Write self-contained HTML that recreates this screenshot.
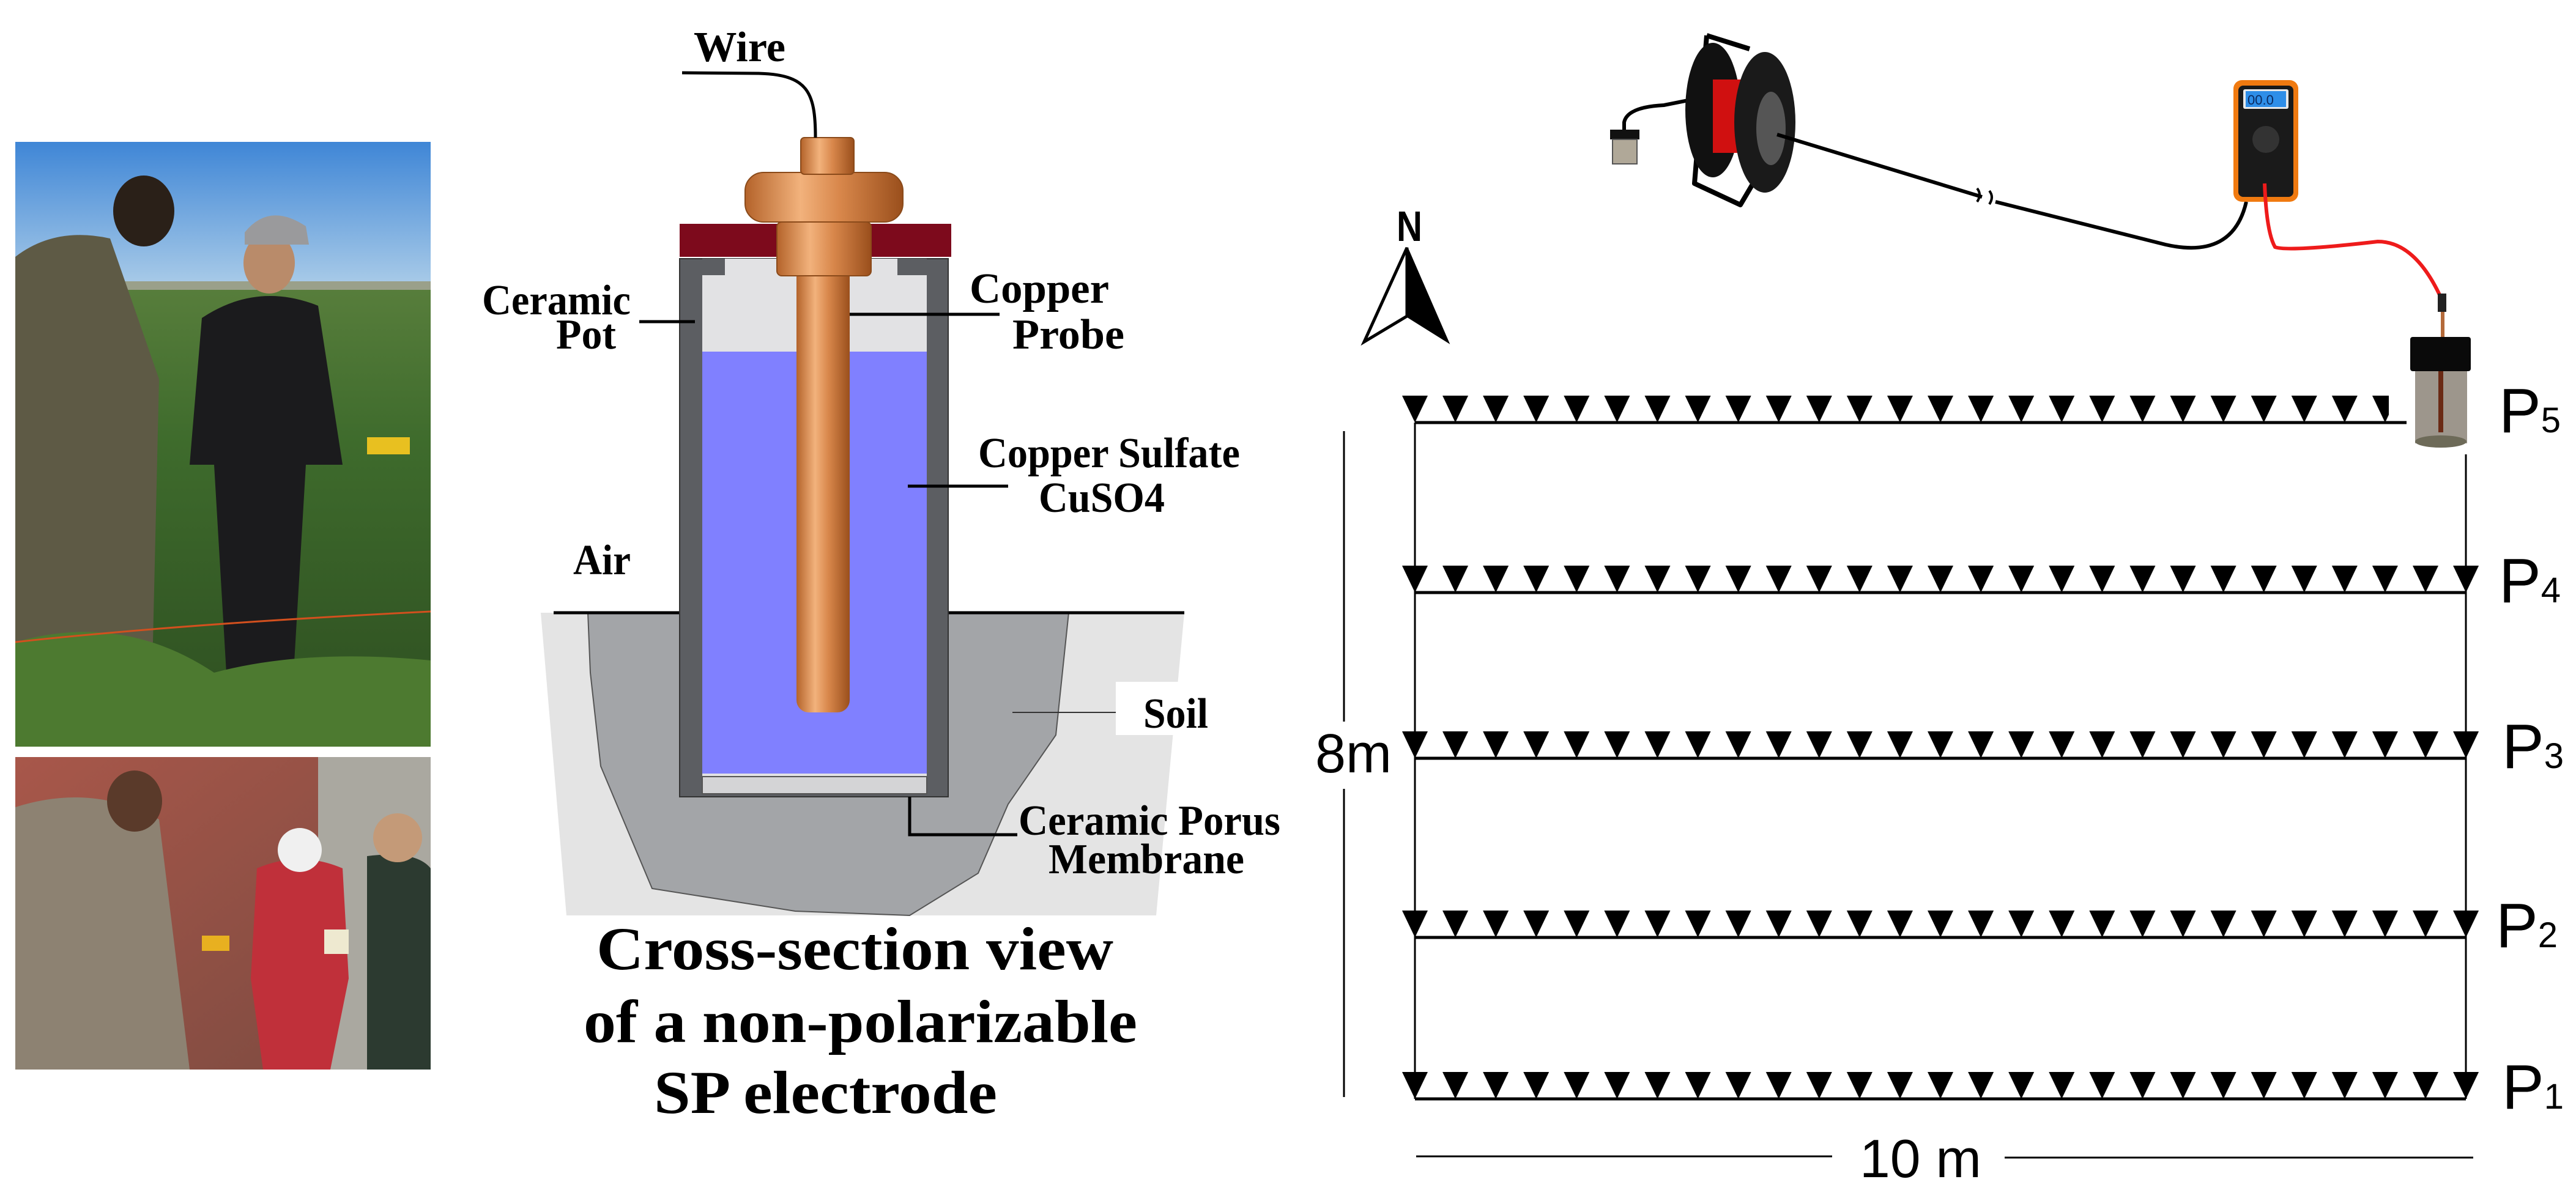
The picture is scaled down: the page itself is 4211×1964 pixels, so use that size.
<!DOCTYPE html>
<html><head><meta charset="utf-8"><style>html,body{margin:0;padding:0;background:#fff}svg{display:block}</style></head>
<body>
<svg width="4211" height="1964" viewBox="0 0 4211 1964" xmlns="http://www.w3.org/2000/svg">
<defs>
<linearGradient id="cu" x1="0" x2="1" y1="0" y2="0">
<stop offset="0" stop-color="#b4632a"/><stop offset="0.35" stop-color="#f2b27c"/><stop offset="0.6" stop-color="#d8874b"/><stop offset="1" stop-color="#9a4f1c"/></linearGradient>
<linearGradient id="sky" x1="0" x2="0" y1="0" y2="1">
<stop offset="0" stop-color="#3f86d6"/><stop offset="1" stop-color="#a9cbe8"/></linearGradient>
<linearGradient id="field" x1="0" x2="0" y1="0" y2="1">
<stop offset="0" stop-color="#6f8f4a"/><stop offset="0.5" stop-color="#3e6b2c"/><stop offset="1" stop-color="#2d4d20"/></linearGradient>
<linearGradient id="brick" x1="0" x2="1" y1="0" y2="1">
<stop offset="0" stop-color="#a8574a"/><stop offset="1" stop-color="#7a4a40"/></linearGradient>
<pattern id="t1" patternUnits="userSpaceOnUse" x="2292" y="647" width="66.08" height="44"><polygon points="0,0 42,0 21,44" fill="#000"/></pattern>
<pattern id="t2" patternUnits="userSpaceOnUse" x="2292" y="925" width="66.08" height="44"><polygon points="0,0 42,0 21,44" fill="#000"/></pattern>
<pattern id="t3" patternUnits="userSpaceOnUse" x="2292" y="1196" width="66.08" height="44"><polygon points="0,0 42,0 21,44" fill="#000"/></pattern>
<pattern id="t4" patternUnits="userSpaceOnUse" x="2292" y="1489" width="66.08" height="44"><polygon points="0,0 42,0 21,44" fill="#000"/></pattern>
<pattern id="t5" patternUnits="userSpaceOnUse" x="2292" y="1753" width="66.08" height="44"><polygon points="0,0 42,0 21,44" fill="#000"/></pattern>
</defs>

<!-- Photo 1 -->
<rect x="25" y="232" width="679" height="989" fill="url(#field)"/>
<rect x="25" y="232" width="679" height="235" fill="url(#sky)"/>
<rect x="25" y="460" width="679" height="14" fill="#9aa08a"/>
<path d="M25,420 Q90,370 180,390 L260,620 L250,1050 L180,1221 L25,1221 Z" fill="#5e5a45"/>
<ellipse cx="235" cy="345" rx="50" ry="58" fill="#2a2018"/>
<path d="M330,520 Q420,460 520,500 L560,760 L500,760 L480,1100 L370,1100 L350,760 L310,760 Z" fill="#1b1b1d"/>
<ellipse cx="440" cy="430" rx="42" ry="50" fill="#b98b6a"/>
<path d="M400,380 Q440,330 500,370 L505,400 L400,400 Z" fill="#9a9a9c"/>
<path d="M25,1050 Q200,1000 350,1100 Q500,1060 704,1080 L704,1221 L25,1221 Z" fill="#4d7a30"/>
<rect x="600" y="715" width="70" height="28" fill="#e8c020"/>
<path d="M25,1050 Q300,1020 704,1000" stroke="#d2501e" stroke-width="3" fill="none"/>
<!-- Photo 2 -->
<rect x="25" y="1238" width="679" height="511" fill="url(#brick)"/>
<rect x="520" y="1238" width="184" height="511" fill="#aaa8a0"/>
<path d="M25,1320 Q150,1280 260,1340 L310,1749 L25,1749 Z" fill="#8d8272"/>
<ellipse cx="220" cy="1310" rx="45" ry="50" fill="#5a3a2a"/>
<path d="M420,1420 Q490,1390 560,1420 L570,1600 L540,1749 L430,1749 L410,1600 Z" fill="#c0303a"/>
<circle cx="490" cy="1390" r="36" fill="#f0f0f0"/>
<path d="M600,1400 Q680,1390 704,1420 L704,1749 L600,1749 Z" fill="#2c3a30"/>
<circle cx="650" cy="1370" r="40" fill="#c49a78"/>
<rect x="710" y="1535" width="0" height="0"/>
<rect x="330" y="1530" width="45" height="25" fill="#e8b020"/>
<rect x="530" y="1520" width="40" height="40" fill="#eee9d0"/>

<!-- Electrode -->
<path d="M884,1002 L1936,1002 L1890,1497 L926,1497 Z" fill="#e4e4e4"/>
<path d="M961,1002 L965,1100 L982,1253 L1066,1453 L1300,1490 L1487,1497 L1599,1428 L1648,1315 L1726,1202 L1747,1002 Z" fill="#a3a5a8" stroke="#555" stroke-width="2"/>
<rect x="1824" y="1115" width="168" height="87" fill="#fff"/>
<line x1="905" y1="1002" x2="1936" y2="1002" stroke="#000" stroke-width="5"/>
<rect x="1111" y="423" width="439" height="880" fill="#5c5e62" stroke="#333" stroke-width="2"/>
<rect x="1148" y="450" width="367" height="820" fill="#e2e2e4"/>
<rect x="1148" y="575" width="367" height="690" fill="#8080ff"/>
<rect x="1148" y="1270" width="367" height="28" fill="#d4d4d6" stroke="#555" stroke-width="2"/>
<rect x="1185" y="423" width="282" height="28" fill="#e2e2e4"/>
<rect x="1148" y="423" width="37" height="27" fill="#5c5e62"/>
<rect x="1467" y="423" width="48" height="27" fill="#5c5e62"/>
<rect x="1111" y="366" width="444" height="54" fill="#7d0a1c"/>
<rect x="1302" y="412" width="87" height="753" rx="20" fill="url(#cu)"/>
<rect x="1270" y="363" width="154" height="88" rx="8" fill="url(#cu)" stroke="#8a4a1a" stroke-width="2"/>
<rect x="1218" y="282" width="258" height="81" rx="30" fill="url(#cu)" stroke="#8a4a1a" stroke-width="2"/>
<rect x="1309" y="225" width="87" height="60" rx="6" fill="url(#cu)" stroke="#8a4a1a" stroke-width="2"/>
<path d="M1333,225 C1333,150 1320,122 1240,120 L1115,119" stroke="#000" stroke-width="5" fill="none"/>
<g stroke="#000" stroke-width="5" fill="none">
<line x1="1045" y1="526" x2="1136" y2="526"/>
<line x1="1389" y1="514" x2="1634" y2="514"/>
<line x1="1484" y1="795" x2="1648" y2="795"/>
<polyline points="1487,1303 1487,1365 1663,1365"/>
</g>
<line x1="1655" y1="1165" x2="1824" y2="1165" stroke="#333" stroke-width="2"/>
<g font-family="Liberation Serif, serif" font-weight="bold" font-size="70" fill="#000">
<text x="1134" y="100" textLength="150" lengthAdjust="spacingAndGlyphs">Wire</text>
<text x="788" y="514" textLength="243" lengthAdjust="spacingAndGlyphs">Ceramic</text>
<text x="909" y="570" textLength="98" lengthAdjust="spacingAndGlyphs">Pot</text>
<text x="1585" y="495" textLength="228" lengthAdjust="spacingAndGlyphs">Copper</text>
<text x="1655" y="570" textLength="183" lengthAdjust="spacingAndGlyphs">Probe</text>
<text x="1599" y="764" textLength="428" lengthAdjust="spacingAndGlyphs">Copper Sulfate</text>
<text x="1698" y="837" textLength="206" lengthAdjust="spacingAndGlyphs">CuSO4</text>
<text x="937" y="939" textLength="94" lengthAdjust="spacingAndGlyphs">Air</text>
<text x="1869" y="1190" textLength="106" lengthAdjust="spacingAndGlyphs">Soil</text>
<text x="1665" y="1365" textLength="428" lengthAdjust="spacingAndGlyphs">Ceramic Porus</text>
<text x="1714" y="1428" textLength="320" lengthAdjust="spacingAndGlyphs">Membrane</text>
</g>
<g font-family="Liberation Serif, serif" font-weight="bold" font-size="100" fill="#000">
<text x="975" y="1585" textLength="845" lengthAdjust="spacingAndGlyphs">Cross-section view</text>
<text x="954" y="1704" textLength="905" lengthAdjust="spacingAndGlyphs">of a non-polarizable</text>
<text x="1069" y="1820" textLength="561" lengthAdjust="spacingAndGlyphs">SP electrode</text>
</g>

<!-- equipment -->
<path d="M2655,232 L2655,200 Q2660,175 2720,172 L2770,162" stroke="#000" stroke-width="6" fill="none"/>
<rect x="2632" y="212" width="48" height="16" fill="#111"/>
<rect x="2636" y="228" width="40" height="40" fill="#b0a898" stroke="#555" stroke-width="2"/>
<path d="M2790,58 L2860,80 M2790,58 L2770,300 L2845,335 L2910,225" stroke="#000" stroke-width="8" fill="none" stroke-linejoin="round"/>
<ellipse cx="2800" cy="180" rx="45" ry="110" fill="#111"/>
<rect x="2800" y="130" width="80" height="120" fill="#d01010"/>
<ellipse cx="2885" cy="200" rx="50" ry="115" fill="#1a1a1a"/>
<ellipse cx="2895" cy="210" rx="24" ry="60" fill="#555"/>
<path d="M2905,220 L3240,322 M3262,330 L3540,400 Q3650,425 3672,330" stroke="#000" stroke-width="6" fill="none"/>
<path d="M3232,330 q8,-12 0,-22 M3252,334 q8,-12 0,-22" stroke="#000" stroke-width="4" fill="none"/>
<rect x="3651" y="131" width="106" height="199" rx="14" fill="#f07a10"/>
<rect x="3659" y="140" width="90" height="182" rx="8" fill="#1a1a1a"/>
<rect x="3667" y="146" width="74" height="32" rx="3" fill="#e8e8e8"/>
<rect x="3671" y="149" width="66" height="26" fill="#2e8ee8"/>
<text x="3674" y="171" font-family="Liberation Sans, sans-serif" font-size="22" fill="#0a2a60">00.0</text>
<circle cx="3704" cy="228" r="22" fill="#333"/>
<path d="M3702,300 Q3705,380 3719,404 Q3740,412 3887,395 Q3950,395 3993,493" stroke="#ee1b1b" stroke-width="6" fill="none"/>
<rect x="3985" y="480" width="14" height="30" fill="#222"/>
<rect x="3990" y="510" width="6" height="42" fill="#b46a3a"/>
<rect x="3940" y="551" width="99" height="56" rx="4" fill="#0a0a0a"/>
<rect x="3948" y="607" width="85" height="118" fill="#8c8478" opacity="0.85"/>
<ellipse cx="3990" cy="722" rx="42" ry="10" fill="#6d6a58"/>
<rect x="3986" y="607" width="8" height="100" fill="#6a2a15"/>

<!-- N arrow -->
<text x="2283" y="394" font-family="Liberation Sans, sans-serif" font-weight="bold" font-size="70" fill="#000" textLength="42" lengthAdjust="spacingAndGlyphs">N</text>
<polygon points="2300,405 2230,559 2300,517" fill="#fff" stroke="#000" stroke-width="5"/>
<polygon points="2300,405 2367,559 2300,517" fill="#000" stroke="#000" stroke-width="3"/>

<!-- grid -->
<g stroke="#000" stroke-width="5">
<line x1="2313" y1="691" x2="3934" y2="691"/>
<line x1="2313" y1="969" x2="4031" y2="969"/>
<line x1="2313" y1="1240" x2="4031" y2="1240"/>
<line x1="2313" y1="1533" x2="4031" y2="1533"/>
<line x1="2313" y1="1797" x2="4031" y2="1797"/>
</g>
<g stroke="#000" stroke-width="3">
<line x1="2313" y1="691" x2="2313" y2="1797"/>
<line x1="4031" y1="743" x2="4031" y2="1797"/>
<line x1="2197" y1="705" x2="2197" y2="1180"/>
<line x1="2197" y1="1290" x2="2197" y2="1794"/>
<line x1="2315" y1="1891" x2="2995" y2="1891"/>
<line x1="3277" y1="1893" x2="4043" y2="1893"/>
</g>
<rect x="2290" y="647" width="1615" height="44" fill="url(#t1)"/>
<rect x="2290" y="925" width="1765" height="44" fill="url(#t2)"/>
<rect x="2290" y="1196" width="1765" height="44" fill="url(#t3)"/>
<rect x="2290" y="1489" width="1765" height="44" fill="url(#t4)"/>
<rect x="2290" y="1753" width="1765" height="44" fill="url(#t5)"/>

<g font-family="Liberation Sans, sans-serif" fill="#000">
<text x="4085" y="707" font-size="103">P<tspan font-size="58">5</tspan></text>
<text x="4085" y="985" font-size="103">P<tspan font-size="58">4</tspan></text>
<text x="4090" y="1256" font-size="103">P<tspan font-size="58">3</tspan></text>
<text x="4080" y="1549" font-size="103">P<tspan font-size="58">2</tspan></text>
<text x="4090" y="1813" font-size="103">P<tspan font-size="58">1</tspan></text>
<text x="2150" y="1263" font-size="90">8m</text>
<text x="3040" y="1925" font-size="88" textLength="199" lengthAdjust="spacingAndGlyphs">10 m</text>
</g>
</svg>
</body></html>
